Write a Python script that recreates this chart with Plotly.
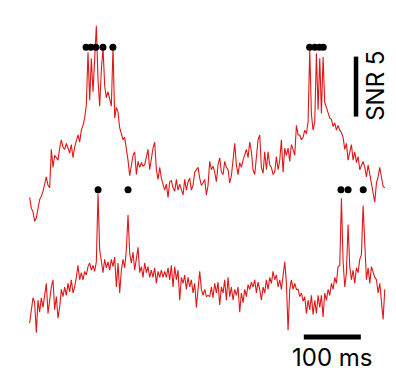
import numpy as np
import plotly.graph_objects as go

# ---- data (SNR values, sampled every ~2.92 ms) ----
sample_interval_ms = 2.924

top_trace_snr = [
    2.3, 1.4, 1.1, 0.3, 0.6, 1.5, 2.1, 2.4, 2.8, 3.4,
    4.0, 3.3, 3.1, 6.3, 4.8, 5.8, 5.6, 5.4, 6.4, 7.1,
    6.5, 6.3, 6.8, 6.3, 6.0, 6.7, 5.6, 6.5, 7.1, 7.5,
    6.9, 7.9, 8.3, 8.9, 10.0, 14.4, 10.4, 13.9, 11.1, 14.2,
    16.6, 12.1, 9.9, 12.9, 14.8, 11.6, 10.6, 11.1, 10.4, 9.9,
    14.8, 8.9, 9.8, 9.4, 8.1, 7.5, 7.1, 7.3, 6.4, 5.4,
    4.1, 5.0, 5.8, 6.1, 4.2, 5.3, 4.8, 5.2, 4.9, 5.0,
    5.6, 6.3, 4.6, 5.7, 6.4, 6.9, 4.6, 3.8, 4.8, 3.9,
    3.3, 2.9, 3.4, 2.3, 3.6, 3.7, 3.1, 2.8, 3.8, 2.9,
    3.4, 2.9, 2.5, 3.8, 2.9, 3.6, 3.9, 2.9, 3.3, 4.4,
    4.6, 4.8, 3.9, 3.3, 3.5, 3.8, 2.5, 3.3, 5.3, 4.6,
    4.9, 4.4, 3.6, 5.0, 5.6, 4.4, 4.2, 5.3, 4.8, 4.6,
    3.5, 4.1, 5.4, 6.8, 5.0, 4.2, 5.2, 4.8, 5.4, 5.8,
    6.3, 5.6, 6.9, 6.1, 4.6, 4.2, 5.4, 7.1, 7.5, 4.8,
    4.3, 6.1, 4.6, 6.1, 5.0, 4.8, 4.2, 4.4, 5.7, 4.6,
    5.4, 7.1, 4.4, 6.4, 5.8, 6.4, 5.3, 6.7, 6.3, 5.8,
    8.3, 7.5, 7.5, 7.1, 7.3, 7.9, 7.6, 8.6, 14.6, 9.2,
    7.9, 8.6, 14.3, 9.6, 13.9, 9.3, 14.0, 10.2, 9.8, 9.3,
    8.9, 8.8, 8.2, 8.5, 7.9, 8.3, 7.9, 7.7, 7.3, 6.3,
    6.8, 5.4, 6.1, 6.7, 5.4, 6.1, 5.2, 5.7, 4.6, 5.0,
    5.3, 4.8, 4.0, 5.0, 4.2, 3.5, 2.5, 1.9, 3.5, 4.0,
    4.8, 3.8, 3.2, 3.1,
]

bottom_trace_snr = [
    1.0, 2.3, 3.1, 2.7, 0.2, 2.9, 1.9, 3.1, 2.3, 3.3,
    4.3, 1.8, 2.9, 4.0, 4.6, 2.1, 3.2, 1.4, 2.3, 3.8,
    3.2, 4.0, 3.3, 4.3, 3.6, 4.6, 3.5, 4.0, 4.8, 5.8,
    4.6, 5.2, 4.6, 5.3, 5.0, 5.7, 6.0, 5.4, 5.8, 5.3,
    6.1, 11.8, 7.1, 6.3, 5.2, 6.3, 5.6, 6.1, 5.4, 6.3,
    5.7, 6.5, 4.0,
    6.0, 3.5, 5.4, 6.3, 5.6, 7.1, 10.0, 6.8, 6.0, 6.9,
    5.4, 6.3, 7.3, 5.2, 5.7, 4.8, 6.0, 5.2, 5.7, 4.8,
    5.4, 4.8, 5.6, 4.3, 5.3, 4.8, 5.4, 4.8, 5.3, 4.8,
    5.6, 4.6, 5.8, 4.0, 5.7, 4.6, 5.4, 2.9, 4.8, 4.3,
    5.0, 3.8, 4.8, 4.0, 4.6, 3.5, 4.3, 2.3, 3.8, 5.3,
    3.8, 3.3, 3.8, 3.2,
    3.3, 3.2, 4.0, 3.1, 4.3, 3.5, 4.4, 2.5, 4.0, 3.5,
    4.6, 2.9, 4.8, 3.2, 4.0, 2.9, 3.8, 3.3, 4.0, 1.9,
    3.5, 2.7, 3.8, 3.2, 4.2, 3.8, 4.4, 4.0, 4.6, 3.5,
    4.4, 3.8, 2.9, 4.0, 3.5, 4.6, 3.8, 4.8, 4.3, 5.3,
    4.6, 5.0, 4.0, 4.6, 3.8, 5.2, 6.1, 4.3, 0.4, 3.8,
    4.6, 3.8, 4.3, 3.8,
    3.8, 3.2, 3.5, 2.8, 3.2, 1.8, 2.9, 2.1, 3.3, 1.7,
    2.9, 1.8, 3.3, 2.3, 3.3, 1.5, 3.5, 2.9, 3.8, 3.3,
    4.3, 3.8, 4.8, 4.3, 5.7, 5.8, 11.4, 6.1, 4.0, 5.2,
    9.2, 5.7, 4.6, 5.4, 4.3, 5.6, 5.2, 6.3, 6.7, 10.8,
    6.9, 4.6, 5.6, 4.3, 5.7, 5.3, 4.8, 4.6, 3.5, 4.3,
    2.9, 1.3, 3.8,
]

top_event_times_ms = [99, 107.5, 116, 128.5, 146, 491, 500, 508, 515]
bottom_event_times_ms = [120, 172.5, 546, 558.5, 585]

scale_time_ms = 100
scale_snr = 5

# ---- layout constants (styling / placement) ----
top_offset = 9.17      # vertical offset of the upper trace (SNR units)
bottom_offset = 0.0
top_dot_level = 14.8   # marker level above each trace's baseline
bottom_dot_level = 12.1
red = "rgb(222,24,24)"

t_top = np.arange(len(top_trace_snr)) * sample_interval_ms
t_bot = np.arange(len(bottom_trace_snr)) * sample_interval_ms

fig = go.Figure()
fig.add_trace(go.Scatter(x=t_top, y=np.array(top_trace_snr) + top_offset,
                         mode="lines", line=dict(color=red, width=1.1)))
fig.add_trace(go.Scatter(x=t_bot, y=np.array(bottom_trace_snr) + bottom_offset,
                         mode="lines", line=dict(color=red, width=1.1)))
fig.add_trace(go.Scatter(x=top_event_times_ms,
                         y=[top_dot_level + top_offset] * len(top_event_times_ms),
                         mode="markers", marker=dict(color="black", size=7)))
fig.add_trace(go.Scatter(x=bottom_event_times_ms,
                         y=[bottom_dot_level + bottom_offset] * len(bottom_event_times_ms),
                         mode="markers", marker=dict(color="black", size=7)))

# scale bars
vbar_x = 572.4
vbar_y0 = 18.2
hbar_y = -0.17
hbar_x0 = 480.8
fig.add_trace(go.Scatter(x=[vbar_x, vbar_x], y=[vbar_y0, vbar_y0 + scale_snr],
                         mode="lines", line=dict(color="black", width=4.5)))
fig.add_trace(go.Scatter(x=[hbar_x0, hbar_x0 + scale_time_ms], y=[hbar_y, hbar_y],
                         mode="lines", line=dict(color="black", width=5)))

fig.add_annotation(x=hbar_x0 + scale_time_ms / 2, y=hbar_y - 1.7,
                   text=f"{scale_time_ms} ms", showarrow=False,
                   font=dict(family="Inter", size=24, color="black"),
                   xanchor="center", yanchor="middle")
fig.add_annotation(x=vbar_x + 33, y=vbar_y0 + scale_snr / 2 + 0.05,
                   text=f"SNR {scale_snr}", showarrow=False, textangle=-90,
                   font=dict(family="Inter", size=24, color="black"),
                   xanchor="center", yanchor="middle")

fig.update_layout(
    width=396, height=382,
    margin=dict(l=0, r=0, t=0, b=0),
    paper_bgcolor="white", plot_bgcolor="white",
    showlegend=False,
    xaxis=dict(range=[-52.0, 642.5], visible=False, fixedrange=True),
    yaxis=dict(range=[-3.917, 27.917], visible=False, fixedrange=True),
)

fig.write_html("out.html", config={"displayModeBar": False},
               post_script="document.body.style.margin='0';document.body.style.overflow='hidden';")
